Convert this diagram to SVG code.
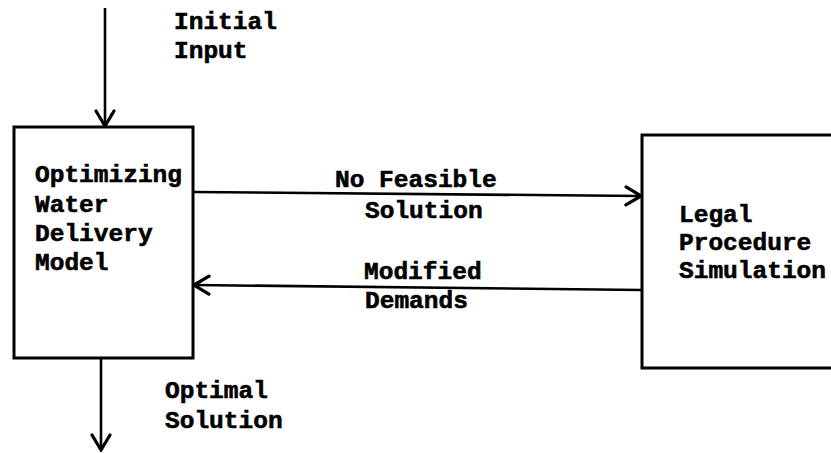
<svg xmlns="http://www.w3.org/2000/svg" width="831" height="453" viewBox="0 0 831 453">
  <style>
    .box { fill: none; stroke: #000; stroke-width: 3; stroke-linejoin: miter; }
    .conn { fill: none; stroke: #000; stroke-width: 2.6; }
    .t { font-family: "Liberation Mono", "Courier New", monospace; font-weight: bold; font-size: 24.5px; fill: #000; stroke: #000; stroke-width: 0.6; }
  </style>
  <defs>
    <marker id="arr" viewBox="0 0 22 22" refX="20" refY="11" markerWidth="22" markerHeight="22" markerUnits="userSpaceOnUse" orient="auto">
      <path d="M5,2 L20,11 L5,20" fill="none" stroke="#000" stroke-width="3.2" stroke-linecap="round"/>
    </marker>
  </defs>
  <rect width="831" height="453" fill="#fff"/>

  <g id="connectors">
    <line class="conn" x1="105" y1="8" x2="105" y2="126" marker-end="url(#arr)"/>
    <line class="conn" x1="101" y1="359" x2="101" y2="450" marker-end="url(#arr)"/>
    <line class="conn" x1="193" y1="192" x2="641" y2="196" marker-end="url(#arr)"/>
    <line class="conn" x1="642" y1="290" x2="194" y2="285" marker-end="url(#arr)"/>
  </g>

  <g id="label-initial-input">
    <text class="t" x="174" y="29">Initial</text>
    <text class="t" x="174" y="58">Input</text>
  </g>

  <g id="node-optimizing">
    <rect class="box" x="14" y="127" width="179" height="231"/>
    <text class="t" x="35" y="182">Optimizing</text>
    <text class="t" x="35" y="212">Water</text>
    <text class="t" x="35" y="241">Delivery</text>
    <text class="t" x="35" y="270">Model</text>
  </g>

  <g id="label-no-feasible">
    <text class="t" x="335" y="187">No Feasible</text>
    <text class="t" x="365" y="218">Solution</text>
  </g>

  <g id="label-modified">
    <text class="t" x="364" y="279">Modified</text>
    <text class="t" x="365" y="308">Demands</text>
  </g>

  <g id="node-legal">
    <path class="box" d="M833,135 L642,135 L642,368 L833,368"/>
    <text class="t" x="679" y="222">Legal</text>
    <text class="t" x="679" y="250">Procedure</text>
    <text class="t" x="679" y="278">Simulation</text>
  </g>

  <g id="label-optimal">
    <text class="t" x="165" y="398">Optimal</text>
    <text class="t" x="165" y="428">Solution</text>
  </g>
</svg>
